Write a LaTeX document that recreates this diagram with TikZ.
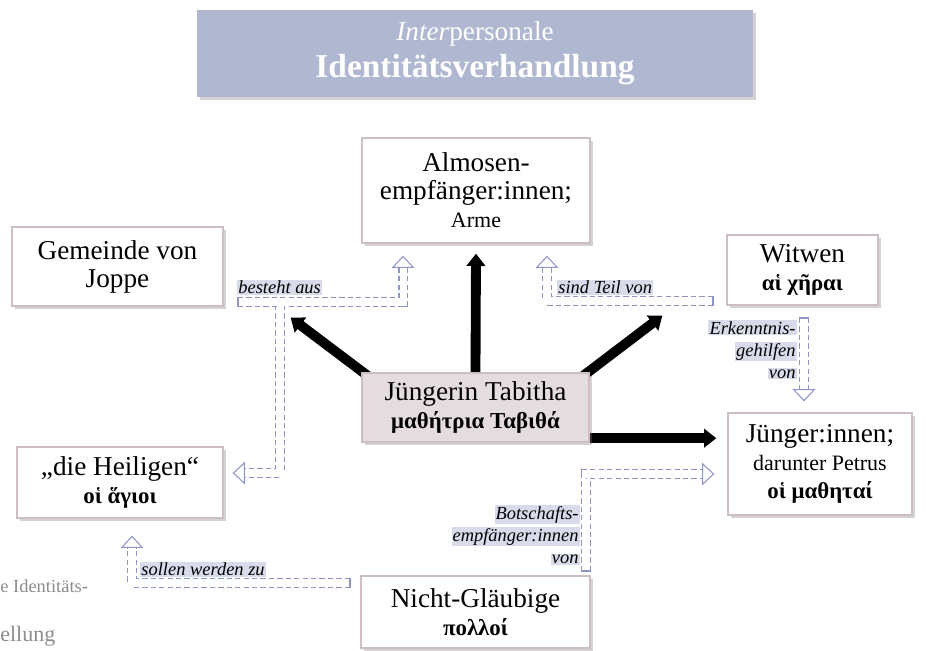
\documentclass[tikz,border=0pt]{standalone}
\usepackage{fontspec}
\setmainfont{Liberation Serif}
\usetikzlibrary{arrows.meta,shadows,backgrounds}

\definecolor{titlefill}{RGB}{176,183,209}
\definecolor{boxline}{RGB}{204,190,196}
\definecolor{tabfill}{RGB}{229,220,224}
\definecolor{relline}{RGB}{142,149,200}
\definecolor{relmark}{RGB}{216,219,234}
\definecolor{fadetext}{RGB}{140,140,140}

\newcommand{\hl}[1]{{\setlength{\fboxsep}{0.6pt}\colorbox{relmark}{#1}}}
\newcommand{\bigtext}{\fontsize{15.5}{16}\selectfont}
\newcommand{\smalltext}{\fontsize{12.5}{14}\selectfont}
\newcommand{\greek}[1]{{\fontsize{13}{15}\selectfont\bfseries #1}}

\tikzset{
  box/.style={draw=boxline, line width=0.8pt, fill=white, align=center, inner sep=2pt,
    drop shadow={shadow xshift=1.5pt, shadow yshift=-1.5pt, opacity=0.35}, font=\bigtext},
  bigarrow/.style={line width=5.6pt, -{Triangle[length=7pt,width=10.5pt]}},
  rel/.style={draw=relline, line width=0.6pt, double=white, double distance=4pt,
    dash pattern=on 3pt off 1.8pt},
  reltip/.style={-{Triangle[open,length=7pt,width=13pt]}},
  relend/.style={draw=relline, line width=0.6pt},
  rellabel/.style={font=\fontsize{10.5}{12.5}\selectfont\itshape, inner sep=0pt, align=right},
}

\begin{document}
\begin{tikzpicture}[x=0.02cm, y=-0.02cm]
    \useasboundingbox (0,0) rectangle (934,650);

    % title
    \node[box, draw=none, fill=titlefill, text=white, minimum width=11.12cm, minimum height=1.74cm,
        font=\fontsize{15.5}{21}\selectfont] (title) at (475,53.5)
        {\textit{Inter}personale\\{\fontsize{19}{21}\selectfont\bfseries Identitätsverhandlung}};

    % boxes
    \node[box, minimum width=4.56cm, minimum height=2.1cm] (alm) at (476,190.5) {Almosen-\\empfänger:innen;\\{\smalltext Arme}};
    \node[box, minimum width=4.22cm, minimum height=1.58cm] (gem) at (117.5,266.5) {Gemeinde von\\Joppe};
    \node[box, minimum width=3.02cm, minimum height=1.4cm] (wit) at (802.5,270) {Witwen\\\greek{αἱ χῆραι}};
    \node[box, fill=tabfill, minimum width=4.54cm, minimum height=1.38cm] (tab) at (475.5,407.5) {Jüngerin Tabitha\\\greek{μαθήτρια Ταβιθά}};
    \node[box, minimum width=3.68cm, minimum height=2.04cm] (jue) at (820,464) {Jünger:innen;\\{\smalltext darunter Petrus}\\\greek{οἱ μαθηταί}};
    \node[box, minimum width=4.12cm, minimum height=1.42cm] (hei) at (120,482.5) {„die Heiligen“\\\greek{οἱ ἅγιοι}};
    \node[box, minimum width=4.58cm, minimum height=1.44cm] (nic) at (475.5,612) {Nicht-Gläubige\\\greek{πολλοί}};

    % black arrows
    \coordinate (tabr) at ([yshift=0.09cm]tab.south east);
    \begin{scope}[on background layer]
        \draw[bigarrow] ([xshift=0.3cm,yshift=-0.2cm]tab.north west) -- ([xshift=1.34cm,yshift=-0.22cm]gem.south east);
        \draw[bigarrow] (tab.north) -- ([yshift=-0.2cm]alm.south);
        \draw[bigarrow] ([xshift=-0.3cm,yshift=-0.2cm]tab.north east) -- ([xshift=-1.28cm,yshift=-0.2cm]wit.south west);
        \draw[bigarrow, shorten >=0.22cm] (tabr) -- (tabr -| jue.west);
    \end{scope}

    % dashed relations
    \coordinate (besteht) at (238,302);
    \coordinate (besteht2) at (280,302);
    \draw[rel, {Triangle[open,length=7pt,width=13pt]}-{Triangle[open,length=7pt,width=13pt]}]
        ([xshift=-1.46cm,yshift=-0.24cm]alm.south) |- (besteht2) |- ([xshift=0.18cm,yshift=0.19cm]hei.east);
    \draw[rel] (besteht) -- ([xshift=-0.06cm]besteht2);
    \draw[relend] ([yshift=2.6pt]besteht) -- ([yshift=-2.6pt]besteht);

    \coordinate (teil) at (713,301);
    \draw[rel, reltip] (teil) -| ([xshift=1.42cm,yshift=-0.24cm]alm.south);
    \draw[relend] ([yshift=2.6pt]teil) -- ([yshift=-2.6pt]teil);

    \coordinate (erkennt) at (804,318);
    \draw[rel, reltip, shorten >=0.22cm] (erkennt) -- (erkennt |- jue.north);
    \draw[relend] ([xshift=-2.6pt]erkennt) -- ([xshift=2.6pt]erkennt);

    \coordinate (botschaft) at (586,571);
    \draw[rel, reltip, shorten >=0.26cm] (botschaft) |- ([yshift=-0.2cm]jue.west);
    \draw[relend] ([xshift=-2.6pt]botschaft) -- ([xshift=2.6pt]botschaft);

    \coordinate (sollen) at (350,583);
    \draw[rel, reltip] (sollen) -| ([xshift=0.24cm,yshift=-0.34cm]hei.south);
    \draw[relend] ([yshift=2.6pt]sollen) -- ([yshift=-2.6pt]sollen);

    % labels
    \node[rellabel, anchor=south west] (lbesteht) at (237,295) {\hl{besteht aus}};
    \node[rellabel, anchor=south west] (lteil) at (557,295) {\hl{sind Teil von}};
    \node[rellabel, anchor=north east] (lerkennt) at (797,320) {\hl{Erkenntnis-}\\\hl{gehilfen}\\\hl{von}};
    \node[rellabel, anchor=north east] (lbotschaft) at (580,505) {\hl{Botschafts-}\\\hl{empfänger:innen}\\\hl{von}};
    \node[rellabel, anchor=south west] (lsollen) at (140,577) {\hl{sollen werden zu}};

    % cut text at the bottom left
    \node[anchor=west, inner sep=0pt, text=fadetext, font=\fontsize{10.5}{13}\selectfont] (fadeA) at (0,586) {e Identitäts-};
    \node[anchor=west, inner sep=0pt, text=fadetext, font=\fontsize{12.5}{14}\selectfont] (fadeB) at (0,636) {ellung};
\end{tikzpicture}
\end{document}
